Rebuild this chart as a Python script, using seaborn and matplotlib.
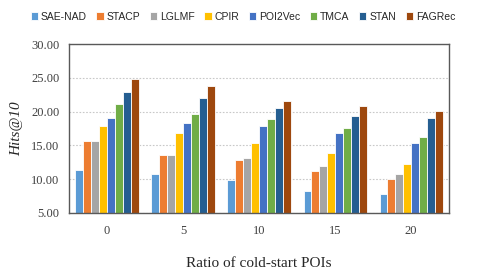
import pandas as pd
import matplotlib
matplotlib.use("Agg")
import matplotlib.pyplot as plt
import seaborn as sns

# values
ratios = ["0", "5", "10", "15", "20"]
methods = ["SAE-NAD", "STACP", "LGLMF", "CPIR", "POI2Vec", "TMCA", "STAN", "FAGRec"]
sae_nad = [11.3, 10.8, 9.9, 8.3, 7.8]
stacp = [15.6, 13.6, 12.9, 11.2, 10.0]
lglmf = [15.7, 13.6, 13.1, 11.9, 10.7]
cpir = [17.9, 16.8, 15.4, 13.9, 12.3]
poi2vec = [19.0, 18.3, 17.9, 16.9, 15.35]
tmca = [21.1, 19.7, 18.9, 17.6, 16.2]
stan = [22.9, 22.0, 20.5, 19.3, 19.0]
fagrec = [24.85, 23.8, 21.6, 20.9, 20.05]
colors = ["#5B9BD5", "#ED7D31", "#A5A5A5", "#FFC000",
          "#4472C4", "#70AD47", "#255E91", "#9E480E"]

series = [sae_nad, stacp, lglmf, cpir, poi2vec, tmca, stan, fagrec]
rows = []
for m, vals in zip(methods, series):
    for r, v in zip(ratios, vals):
        rows.append({"Ratio": r, "Method": m, "Hits": v})
df = pd.DataFrame(rows)

sns.set_style("white")
fig = plt.figure(figsize=(4.86, 2.79), dpi=100)
ax = fig.add_axes([0.142, 0.237, 0.782, 0.605])

sns.barplot(data=df, x="Ratio", y="Hits", hue="Method", order=ratios,
            hue_order=methods, palette=colors, saturation=1, width=0.83,
            edgecolor="white", linewidth=0.6, ax=ax, legend=True)

ax.set_ylim(5, 30)
ax.set_yticks([5, 10, 15, 20, 25, 30])
ax.set_yticklabels([f"{t:.2f}" for t in [5, 10, 15, 20, 25, 30]],
                   fontfamily="Liberation Serif", fontsize=9, color="#404040")
ax.set_xticklabels(ratios, fontfamily="Liberation Serif", fontsize=9,
                   color="#404040")
ax.tick_params(axis="y", length=0, pad=7)
ax.tick_params(axis="x", length=0, pad=9)
ax.yaxis.grid(True, linestyle=(0, (1.5, 1.5)), color="#C8C8C8", linewidth=0.8)
ax.set_axisbelow(True)
for s in ax.spines.values():
    s.set_color("#595959")
    s.set_linewidth(1.0)

ax.set_xlabel("Ratio of cold-start POIs", fontfamily="Liberation Serif",
              fontsize=11, labelpad=14)
ax.set_ylabel("Hits@10", fontfamily="Liberation Serif", fontstyle="italic",
              fontsize=11, labelpad=6)

handles, labels = ax.get_legend_handles_labels()
ax.legend_.remove()
fig.legend(handles, labels, loc="center", bbox_to_anchor=(0.5, 0.94),
           ncol=8, frameon=False, handlelength=0.7,
           handleheight=0.7, handletextpad=0.3, columnspacing=0.9,
           prop={"family": "Liberation Sans", "size": 7.5})

fig.savefig("out.png", dpi=100)
